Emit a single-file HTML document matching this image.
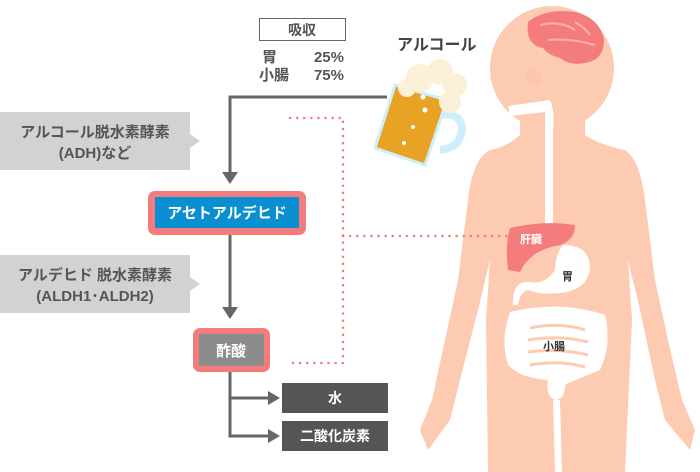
<!DOCTYPE html>
<html><head><meta charset="utf-8"><style>
body{margin:0;background:#fff}
svg{display:block}
text{font-family:"Liberation Sans","Noto Sans CJK JP",sans-serif;font-weight:bold}
</style></head><body>
<svg width="700" height="472" viewBox="0 0 700 472">
<g fill="#fccbb2">
<circle cx="552" cy="68" r="62"/>
<path d="M500 60 L490 80 L503 88 L510 110 L520 110 L520 135 Q505 148 490 150 Q472 160 468 200 L458 280 L445 340 L432 400 L420 430 L428 450 L450 420 L460 380 L478 310 L490 260 L486 320 L488 472 L555 472 L553 400 L560 400 L562 472 L625 472 L632 320 L628 260 L640 310 L655 380 L665 420 L690 450 L695 430 L682 400 L668 340 L655 280 L645 200 Q640 160 625 150 Q600 145 585 135 L585 100 Z"/>
</g>
<path d="M528 22 Q545 8 575 12 Q600 18 604 40 Q604 60 585 63 Q570 66 560 58 Q548 55 543 48 Q525 45 528 22Z" fill="#f47c7c"/>
<path d="M540 25 Q560 20 575 30 M548 40 Q570 38 595 45 M575 22 Q585 28 590 35" stroke="#fcb0a8" stroke-width="2" fill="none"/>
<circle cx="534" cy="78" r="8" fill="#f9b4a4" opacity="0.25"/>
<path d="M508 106 L550 100 Q555 110 553 130 L553 225 L545 225 L545 112 L510 116Z" fill="#fff"/>
<path d="M510 228 Q545 220 575 225 Q575 240 560 245 Q530 250 520 272 L508 270 Q505 245 510 228Z" fill="#f47c7c"/>
<text x="520" y="243" font-size="11" fill="#fff" font-weight="normal">肝臓</text>
<path d="M563 245 Q590 245 590 268 Q588 290 560 293 Q540 295 528 290 Q520 292 518 305 L513 305 Q512 280 530 282 Q545 285 555 270 Q555 255 563 245Z" fill="#fff"/>
<text x="562" y="280" font-size="11" fill="#333" font-weight="normal">胃</text>
<path d="M510 312 Q560 300 605 315 Q612 345 600 370 Q575 380 565 385 Q565 400 555 400 Q545 395 548 380 Q520 378 508 365 Q500 340 510 312Z" fill="#fff"/>
<path d="M530 328 Q560 322 585 330 M528 340 Q560 335 588 342 M528 352 Q560 348 588 355 M530 365 Q560 360 585 367" stroke="#fccbb2" stroke-width="3" fill="none"/>
<text x="543" y="350" font-size="11" fill="#333" font-weight="normal">小腸</text>
<path d="M440 115 Q462 112 462 130 Q460 148 440 150" stroke="#cdeffb" stroke-width="8" fill="none"/>
<path d="M395 85 L447 100 L425 165 L375 148 Z" fill="#e8a325" stroke="#cdeffb" stroke-width="3"/>
<circle cx="420" cy="78" r="14" fill="#fdf0d8"/><circle cx="440" cy="72" r="13" fill="#fdf0d8"/><circle cx="455" cy="85" r="12" fill="#fdf0d8"/><circle cx="450" cy="102" r="11" fill="#fdf0d8"/><circle cx="407" cy="88" r="9" fill="#fdf0d8"/>
<circle cx="423" cy="97" r="2.5" fill="#fff"/><circle cx="425" cy="110" r="2.5" fill="#fff"/><circle cx="413" cy="127" r="2" fill="#fff"/><circle cx="404" cy="143" r="2" fill="#fff"/>
<text x="397" y="50" font-size="16" fill="#444">アルコール</text>
<rect x="259.5" y="18.5" width="86" height="22" fill="#fff" stroke="#666"/>
<text x="302" y="35" font-size="14" fill="#555" text-anchor="middle">吸収</text>
<text x="262" y="62" font-size="15" fill="#555">胃</text><text x="344" y="62" font-size="15" fill="#555" text-anchor="end">25%</text>
<text x="259" y="80" font-size="15" fill="#555">小腸</text><text x="344" y="80" font-size="15" fill="#555" text-anchor="end">75%</text>
<g stroke="#f47c7c" stroke-width="2.5" stroke-dasharray="0.1 7" stroke-linecap="round" fill="none">
<path d="M290 118 H343 V363 H290"/><path d="M343 236 H512"/>
</g>
<g stroke="#666" stroke-width="3" fill="none">
<path d="M387 97 H230 V172"/><path d="M230 235 V307"/><path d="M230 372 V436 H270 M230 398 H270"/>
</g>
<g fill="#666"><path d="M222 172 H238 L230 184Z"/><path d="M222 307 H238 L230 319Z"/><path d="M268 391 L280 398 L268 405Z"/><path d="M268 429 L280 436 L268 443Z"/></g>
<path d="M0 112 H190 V134 L200 141 L190 148 V170 H0Z" fill="#d2d2d2"/>
<text x="95" y="137" font-size="15" fill="#555" font-weight="normal" text-anchor="middle">アルコール脱水素酵素</text>
<text x="95" y="158" font-size="15" fill="#555" font-weight="normal" text-anchor="middle">(ADH)など</text>
<path d="M0 255 H190 V277 L200 284 L190 291 V313 H0Z" fill="#d2d2d2"/>
<text x="95" y="280" font-size="15" fill="#555" font-weight="normal" text-anchor="middle">アルデヒド 脱水素酵素</text>
<text x="95" y="301" font-size="15" fill="#555" font-weight="normal" text-anchor="middle">(ALDH1･ALDH2)</text>
<rect x="148" y="191" width="158" height="44" rx="7" fill="#f47c7c"/>
<rect x="155" y="197" width="144" height="31" fill="#0a8fd0"/>
<text x="227" y="218" font-size="15" fill="#fff" text-anchor="middle">アセトアルデヒド</text>
<rect x="193" y="328" width="77" height="44" rx="7" fill="#f47c7c"/>
<rect x="199" y="334" width="65" height="32" fill="#8c8c8c"/>
<text x="231" y="356" font-size="15" fill="#fff" text-anchor="middle">酢酸</text>
<rect x="282" y="383" width="106" height="30" fill="#555"/>
<text x="335" y="403" font-size="14" fill="#fff" text-anchor="middle">水</text>
<rect x="282" y="421" width="106" height="30" fill="#555"/>
<text x="335" y="441" font-size="14" fill="#fff" text-anchor="middle">二酸化炭素</text>
</svg>
</body></html>
